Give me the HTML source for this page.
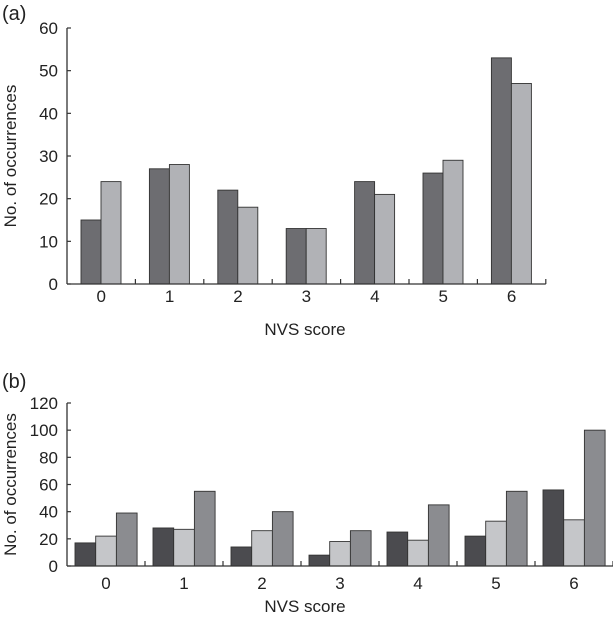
<!DOCTYPE html>
<html><head><meta charset="utf-8"><style>
body{margin:0;background:#fff;width:613px;height:621px;overflow:hidden}
svg{font-family:"Liberation Sans",sans-serif}
</style></head><body>
<svg id="s" width="613" height="621" viewBox="0 0 613 621"></svg>
<script>
const categories=["0","1","2","3","4","5","6"];
const aDark=[15,27,22,13,24,26,53];
const aLight=[24,28,18,13,21,29,47];
const aTicks=[0,10,20,30,40,50,60];
const bDark=[17,28,14,8,25,22,56];
const bLight=[22,27,26,18,19,33,34];
const bMid=[39,55,40,26,45,55,100];
const bTicks=[0,20,40,60,80,100,120];
const NS="http://www.w3.org/2000/svg";
const svg=document.getElementById('s');
function mk(t,a,p){const e=document.createElementNS(NS,t);for(const k in a)e.setAttribute(k,a[k]);(p||svg).appendChild(e);return e;}
function panel(o){
  const g=mk('g',{});
  
  
  const y=v=>o.y0-(v/o.max)*(o.y0-o.yTop);
  const x=i=>o.x0+i*o.cw;
  const pl=mk('text',{x:2,y:o.labelY,'font-size':20,fill:'#222'},g);pl.textContent=o.label;
  
  const ya=mk('line',{x1:o.x0,y1:o.yTop,x2:o.x0,y2:o.y0,stroke:'#333','stroke-width':1.3},g);
  
  o.ticks.forEach(t=>{
    mk('line',{x1:o.x0,y1:y(t),x2:o.x0+4,y2:y(t),stroke:'#333','stroke-width':1.2},g);
    const tx=mk('text',{x:o.x0-9,y:y(t)+6,'font-size':17,'text-anchor':'end',fill:'#222'},g);tx.textContent=t;
    
  });
  const yt=mk('text',{x:0,y:0,'font-size':17,'text-anchor':'middle',fill:'#222',transform:`translate(${o.titleX},${(o.yTop+o.y0)/2}) rotate(-90)`},g);
  yt.textContent='No. of occurrences';
  
  categories.forEach((c,i)=>{
    o.series.forEach((s,j)=>{
      const v=s.vals[i];
      const r=mk('rect',{x:x(i)+o.off+j*o.bw,y:y(v),width:o.bw,height:o.y0-y(v),fill:s.color,stroke:'#333','stroke-width':0.9},g);
      
    });
    const lt=mk('text',{x:x(i)+o.cw/2,y:o.y0+o.lblOff,'font-size':17,'text-anchor':'middle',fill:'#222'},g);lt.textContent=c;
    
  });
  for(let i=1;i<=categories.length;i++)mk('line',{x1:x(i),y1:o.y0,x2:x(i),y2:o.y0-5,stroke:'#333','stroke-width':1.2},g);
  const xa=mk('line',{x1:o.x0,y1:o.y0,x2:x(categories.length),y2:o.y0,stroke:'#333','stroke-width':1.3},g);
  
  const xt=mk('text',{x:o.xTitleX,y:o.xTitleY,'font-size':17,'text-anchor':'middle',fill:'#222'},g);xt.textContent='NVS score';
  
}
panel({name:'chart-a',label:'(a)',labelY:20,x0:67,y0:284,yTop:28,max:60,cw:68.4,off:14,bw:20,lblOff:18,ticks:aTicks,titleX:16,xTitleX:305,xTitleY:335,
  series:[{key:'dark',vals:aDark,color:'#6d6d71'},{key:'light',vals:aLight,color:'#b1b2b6'}]});
panel({name:'chart-b',label:'(b)',labelY:388,x0:67,y0:566,yTop:403,max:120,cw:78,off:8,bw:20.7,lblOff:23,ticks:bTicks,titleX:16,xTitleX:305,xTitleY:612,
  series:[{key:'dark',vals:bDark,color:'#4b4b4f'},{key:'light',vals:bLight,color:'#c5c6c9'},{key:'mid',vals:bMid,color:'#8b8c90'}]});
</script>
</body></html>
